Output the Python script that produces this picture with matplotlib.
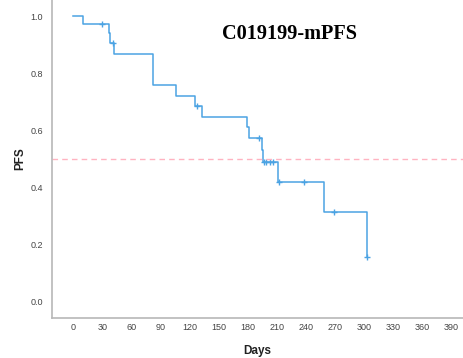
import numpy as np
import matplotlib
matplotlib.use('Agg')
import matplotlib.pyplot as plt

# Kaplan-Meier estimate
event_days = [0, 10, 37, 38, 42, 82, 106, 126, 133, 179, 181, 194.5, 196, 211, 259, 303]
surv       = [1.0, 0.972, 0.941, 0.906, 0.867, 0.759, 0.721, 0.685, 0.648,
              0.612, 0.573, 0.531, 0.491, 0.421, 0.316, 0.156]
censor_days = [30, 41, 128, 192, 197, 199, 203, 206, 212, 238, 269, 303]

x_ticks = list(range(0, 391, 30))
y_ticks = [0.0, 0.2, 0.4, 0.6, 0.8, 1.0]

plt.rcParams['font.family'] = ['Liberation Sans', 'DejaVu Sans']

fig = plt.figure(figsize=(4.64, 3.58), dpi=100)
ax = fig.add_axes([0.112, 0.112, 0.885, 0.888])

line_col = '#4ba3e3'
ax.step(event_days, surv, where='post', color=line_col, lw=1.1)

# censored marks sit on the curve
idx = np.searchsorted(event_days, censor_days, side='right') - 1
censor_surv = np.array(surv)[idx]
ax.plot(censor_days, censor_surv, ls='none', marker='+', ms=5, mew=1.0, color=line_col)

ax.axhline(0.5, color='#ffb3c1', lw=1.0, ls=(0, (4, 3)))

ax.set_xlim(-22, 402)
ax.set_ylim(-0.056, 1.056)
ax.set_xticks(x_ticks)
ax.set_yticks(y_ticks)
ax.set_yticklabels(['%.1f' % v for v in y_ticks])
ax.tick_params(length=0, labelsize=6.5, colors='#444444')
ax.tick_params(axis='x', pad=4)
ax.tick_params(axis='y', pad=6.5)

for s in ['top', 'right']:
    ax.spines[s].set_visible(False)
for s in ['left', 'bottom']:
    ax.spines[s].set_color('#b8b8b8')
    ax.spines[s].set_linewidth(1.2)

ax.set_xlabel('Days', fontsize=8.5, fontweight='bold', color='#222222', labelpad=9)
ax.set_ylabel('PFS', fontsize=8.5, fontweight='bold', color='#222222', labelpad=3)

fig.text(0.625, 0.905, 'C019199-mPFS', family='Liberation Serif', fontsize=14.6,
         fontweight='bold', ha='center', va='center', color='black')

fig.savefig('out.png', dpi=100)
